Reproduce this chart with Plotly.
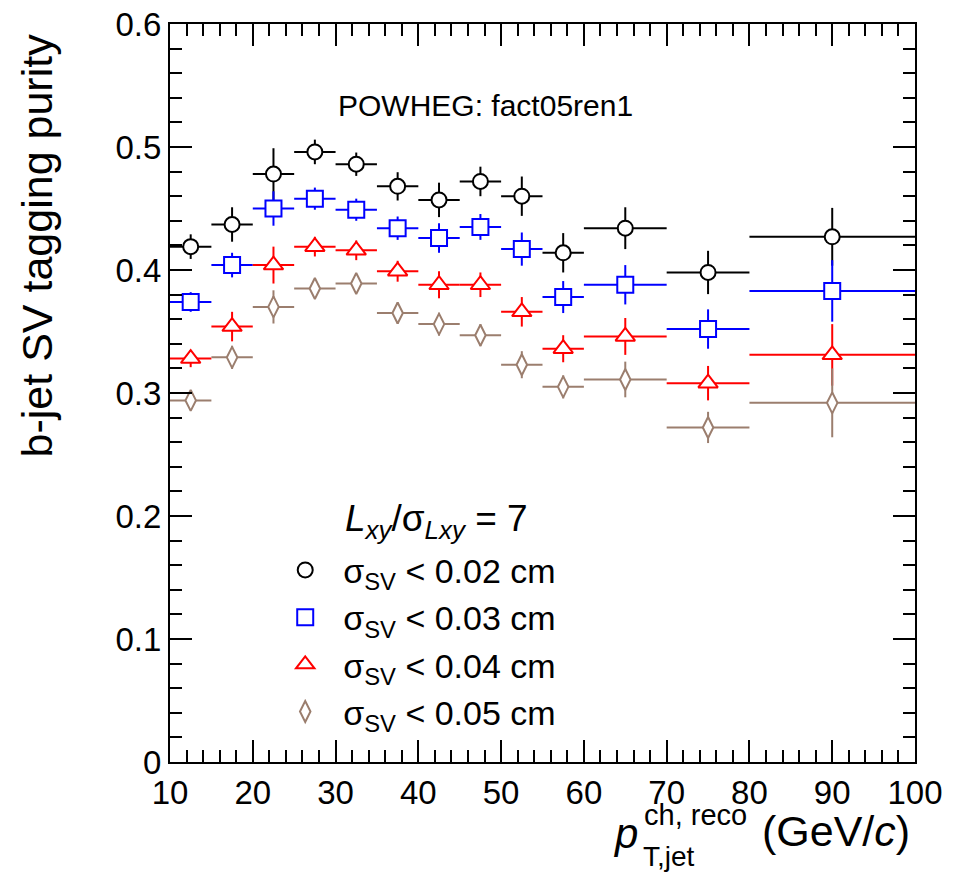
import plotly.graph_objects as go

# pT bin edges (GeV/c) and derived centres / half-widths
bin_edges = [10, 15, 20, 25, 30, 35, 40, 45, 50, 55, 60, 70, 80, 100]
bin_centres = [(a + b) / 2 for a, b in zip(bin_edges[:-1], bin_edges[1:])]
bin_halfwidths = [(b - a) / 2 for a, b in zip(bin_edges[:-1], bin_edges[1:])]

# b-jet SV tagging purity for the four sigma_SV cuts
purity_002 = [0.419, 0.437, 0.478, 0.496, 0.486, 0.468, 0.457, 0.472, 0.460, 0.414, 0.434, 0.398, 0.427]
err_002 = [0.010, 0.014, 0.021, 0.010, 0.0095, 0.0115, 0.014, 0.012, 0.016, 0.016, 0.017, 0.0176, 0.0235]

purity_003 = [0.374, 0.404, 0.450, 0.458, 0.449, 0.434, 0.426, 0.435, 0.417, 0.378, 0.388, 0.352, 0.383]
err_003 = [0.008, 0.010, 0.014, 0.009, 0.009, 0.0095, 0.012, 0.0105, 0.0135, 0.013, 0.016, 0.016, 0.025]

purity_004 = [0.328, 0.354, 0.404, 0.419, 0.416, 0.399, 0.388, 0.388, 0.366, 0.336, 0.346, 0.308, 0.331]
err_004 = [0.007, 0.012, 0.015, 0.008, 0.008, 0.0085, 0.011, 0.010, 0.012, 0.011, 0.015, 0.014, 0.025]

purity_005 = [0.294, 0.329, 0.370, 0.385, 0.389, 0.365, 0.356, 0.347, 0.323, 0.305, 0.311, 0.272, 0.292]
err_005 = [0.007, 0.0095, 0.0135, 0.007, 0.007, 0.0087, 0.0095, 0.009, 0.011, 0.0095, 0.0145, 0.0127, 0.028]

series_labels = [
    "σ<sub>SV</sub> &lt; 0.02 cm",
    "σ<sub>SV</sub> &lt; 0.03 cm",
    "σ<sub>SV</sub> &lt; 0.04 cm",
    "σ<sub>SV</sub> &lt; 0.05 cm",
]

FONT = "Liberation Sans, Arial, Helvetica, sans-serif"

styles = [
    dict(color="black", symbol="circle", size=15),
    dict(color="#0000ff", symbol="square", size=16),
    dict(color="#ff0000", symbol="triangle-up", size=17),
    dict(color="#9b7e6e", symbol="diamond-tall", size=15),
]

fig = go.Figure()

for vals, errs, label, st in zip(
    [purity_002, purity_003, purity_004, purity_005],
    [err_002, err_003, err_004, err_005],
    series_labels,
    styles,
):
    fig.add_trace(
        go.Scatter(
            x=bin_centres,
            y=vals,
            mode="markers",
            name=label,
            marker=dict(
                symbol=st["symbol"],
                size=st["size"],
                color="white",
                line=dict(color=st["color"], width=2),
            ),
            error_x=dict(type="data", array=bin_halfwidths, color=st["color"], thickness=2, width=0),
            error_y=dict(type="data", array=errs, color=st["color"], thickness=2, width=0),
        )
    )

axis_common = dict(
    showline=True,
    linecolor="black",
    linewidth=2,
    mirror="allticks",
    ticks="inside",
    tickwidth=2,
    tickcolor="black",
    ticklen=22,
    showgrid=False,
    zeroline=False,
    automargin=False,
    tickfont=dict(family=FONT, size=33, color="black"),
)

fig.update_xaxes(
    range=[10, 100],
    dtick=10,
    tick0=10,
    minor=dict(dtick=2, ticklen=12, tickwidth=2, tickcolor="black", ticks="inside", showgrid=False),
    **axis_common,
)
fig.update_yaxes(
    range=[0, 0.6],
    dtick=0.1,
    tick0=0,
    minor=dict(dtick=0.02, ticklen=12, tickwidth=2, tickcolor="black", ticks="inside", showgrid=False),
    **axis_common,
)

annotations = [
    # y-axis title, top-aligned along the axis
    dict(
        text="b-jet SV tagging purity",
        xref="paper", yref="paper", x=-0.1785, y=0.70,
        xanchor="center", yanchor="middle", textangle=-90, showarrow=False,
        font=dict(family=FONT, size=43, color="black"),
    ),
    # x-axis title: p with stacked super/subscripts, then the unit
    dict(
        text="<i>p</i>",
        xref="paper", yref="paper", x=0.592, y=-0.097,
        xanchor="left", yanchor="middle", showarrow=False,
        font=dict(family=FONT, size=42, color="black"),
    ),
    dict(
        text="ch, reco",
        xref="paper", yref="paper", x=0.6336, y=-0.0718,
        xanchor="left", yanchor="middle", showarrow=False,
        font=dict(family=FONT, size=29, color="black"),
    ),
    dict(
        text="T,jet",
        xref="paper", yref="paper", x=0.632, y=-0.128,
        xanchor="left", yanchor="middle", showarrow=False,
        font=dict(family=FONT, size=28, color="black"),
    ),
    dict(
        text="(GeV/<i>c</i>)",
        xref="paper", yref="paper", x=0.792, y=-0.0935,
        xanchor="left", yanchor="middle", showarrow=False,
        font=dict(family=FONT, size=43, color="black"),
    ),
    # generator label
    dict(
        text="POWHEG: fact05ren1",
        xref="paper", yref="paper", x=0.424, y=0.889,
        xanchor="center", yanchor="middle", showarrow=False,
        font=dict(family=FONT, size=30, color="black"),
    ),
    # legend header
    dict(
        text="<i>L</i><sub><i>xy</i></sub>/σ<sub><i>Lxy</i></sub> = 7",
        xref="paper", yref="paper", x=0.232, y=0.327,
        xanchor="left", yanchor="middle", showarrow=False,
        font=dict(family=FONT, size=37, color="black"),
    ),
]

fig.update_layout(
    width=959,
    height=874,
    margin=dict(l=170, r=44, t=24, b=112),
    paper_bgcolor="white",
    plot_bgcolor="white",
    font=dict(family=FONT, color="black"),
    showlegend=True,
    legend=dict(
        x=0.1305, y=0.299, xanchor="left", yanchor="top",
        itemwidth=66,
        bgcolor="rgba(0,0,0,0)", borderwidth=0,
        font=dict(family=FONT, size=34, color="black"),
    ),
    annotations=annotations,
)

fig.write_html("out.html")
